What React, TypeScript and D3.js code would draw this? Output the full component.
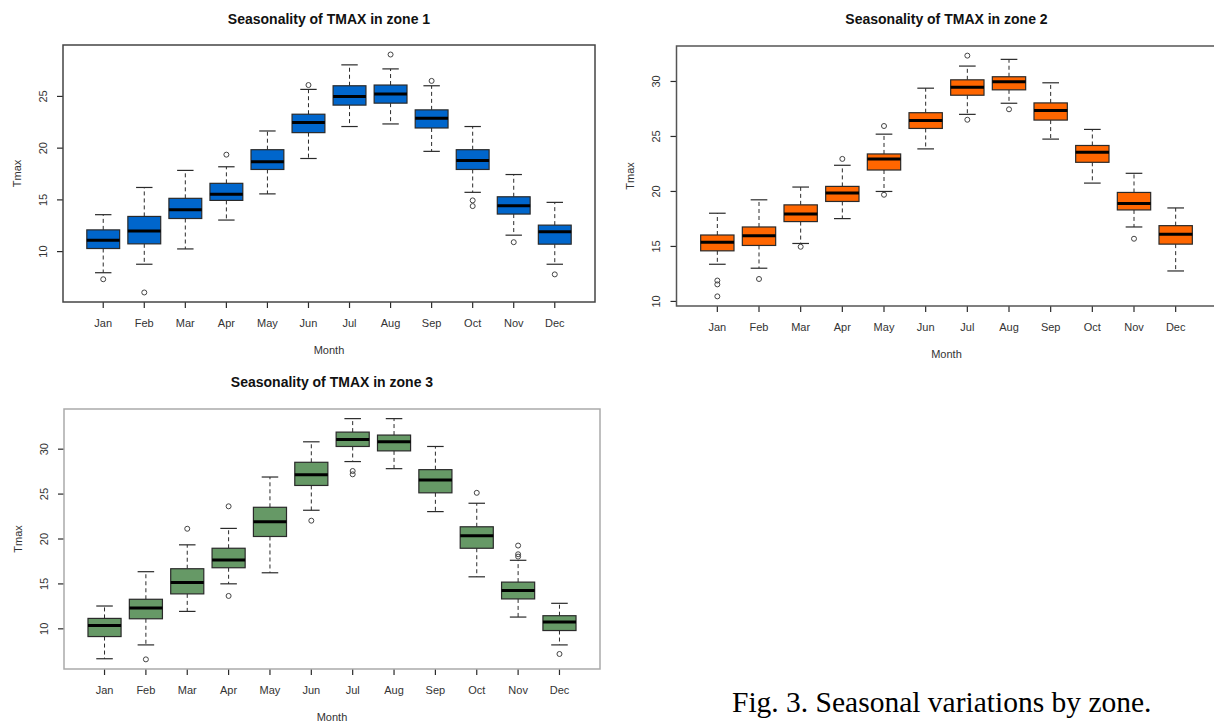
import * as d3 from "d3";
import React from "react";

const months = ["Jan", "Feb", "Mar", "Apr", "May", "Jun", "Jul", "Aug", "Sep", "Oct", "Nov", "Dec"];

// zone 1 (blue)
const zone1Low = [7.96, 8.78, 10.26, 13.05, 15.58, 19.0, 22.09, 22.34, 19.69, 15.73, 11.59, 8.78];
const zone1Q1 = [10.3, 10.75, 13.2, 14.95, 17.94, 21.5, 24.16, 24.35, 21.95, 17.94, 13.63, 10.72];
const zone1Med = [11.1, 12.0, 14.05, 15.55, 18.69, 22.48, 25.0, 25.23, 22.9, 18.81, 14.44, 11.91];
const zone1Q3 = [12.1, 13.4, 15.15, 16.6, 19.85, 23.28, 26.03, 26.1, 23.7, 19.85, 15.3, 12.56];
const zone1High = [13.57, 16.2, 17.85, 18.2, 21.66, 25.68, 28.05, 27.66, 26.03, 22.09, 17.45, 14.76];
const zone1Out = [[7.33], [6.05], [], [19.37], [], [26.1], [], [29.05], [26.5], [14.95, 14.4], [10.91], [7.8]];

// zone 2 (orange)
const zone2Low = [13.38, 13.02, 15.27, 17.53, 20.0, 23.87, 27.01, 28.02, 24.76, 20.76, 16.77, 12.77];
const zone2Q1 = [14.6, 15.09, 17.26, 19.09, 21.95, 25.73, 28.75, 29.24, 26.49, 22.65, 18.32, 15.21];
const zone2Med = [15.37, 15.98, 17.96, 19.85, 22.96, 26.46, 29.48, 29.97, 27.35, 23.57, 18.9, 16.1];
const zone2Q3 = [16.04, 16.77, 18.78, 20.46, 23.41, 27.16, 30.15, 30.43, 28.05, 24.18, 19.91, 16.89];
const zone2High = [18.02, 19.24, 20.4, 22.38, 25.21, 29.39, 31.4, 32.01, 29.88, 25.64, 21.65, 18.5];
const zone2Out = [[11.9, 11.55, 10.46], [12.04], [14.97], [22.96], [25.95, 19.7], [], [32.35, 26.52], [27.47], [], [], [15.7], []];

// zone 3 (green)
const zone3Low = [6.67, 8.21, 11.94, 15.01, 16.24, 23.2, 28.62, 27.83, 23.05, 15.79, 11.31, 8.21];
const zone3Q1 = [9.14, 11.12, 13.89, 16.8, 20.28, 25.96, 30.3, 29.81, 25.14, 18.97, 13.33, 9.81];
const zone3Med = [10.37, 12.32, 15.16, 17.66, 21.93, 27.16, 31.08, 30.82, 26.56, 20.36, 14.26, 10.75];
const zone3Q3 = [11.16, 13.29, 16.69, 18.97, 23.53, 28.54, 31.9, 31.57, 27.72, 21.36, 15.2, 11.46];
const zone3High = [12.54, 16.36, 19.35, 21.18, 26.9, 30.82, 33.4, 33.4, 30.3, 23.98, 17.63, 12.84];
const zone3Out = [[], [6.6], [21.14], [23.64, 13.66], [], [22.04], [27.57, 27.2], [], [], [25.14], [19.27, 18.3, 18.04], [7.2]];

const font = "'Liberation Sans', Arial, sans-serif";

function BoxPanel({ title, low, q1, med, q3, high, out, fill, frame, left, right, top, bottom, titleY }) {
  const all = [...low, ...high, ...out.flat()];
  const [mn, mx] = d3.extent(all);
  const pad = (mx - mn) * 0.04;
  const y = d3.scaleLinear().domain([mn - pad, mx + pad]).range([bottom, top]);
  const x = d3.scaleLinear().domain([0.02, 12.98]).range([left, right]);
  const step = x(2) - x(1);
  const bw = step * 0.8;
  const sw = bw / 2;
  const yTicks = d3.range(5, 40, 5).filter((v) => v >= mn - pad && v <= mx + pad);
  const cx = (left + right) / 2;
  const ink = "#2a2a2a";

  return (
    <g>
      <text x={cx} y={titleY} textAnchor="middle" dy="0.35em" fontFamily={font} fontWeight="bold" fontSize={14} fill="#111">
        {title}
      </text>
      {months.map((m, i) => {
        const xc = x(i + 1);
        return (
          <g key={m}>
            <line x1={xc} x2={xc} y1={y(q3[i])} y2={y(high[i])} stroke={ink} strokeDasharray="4,3" />
            <line x1={xc} x2={xc} y1={y(q1[i])} y2={y(low[i])} stroke={ink} strokeDasharray="4,3" />
            <line x1={xc - sw / 2} x2={xc + sw / 2} y1={y(high[i])} y2={y(high[i])} stroke={ink} strokeWidth={1.2} />
            <line x1={xc - sw / 2} x2={xc + sw / 2} y1={y(low[i])} y2={y(low[i])} stroke={ink} strokeWidth={1.2} />
            <rect x={xc - bw / 2} y={y(q3[i])} width={bw} height={y(q1[i]) - y(q3[i])} fill={fill} stroke={ink} strokeWidth={1.2} />
            <line x1={xc - bw / 2} x2={xc + bw / 2} y1={y(med[i])} y2={y(med[i])} stroke="#000" strokeWidth={3} />
            {out[i].map((o, j) => (
              <circle key={j} cx={xc} cy={y(o)} r={2.5} fill="none" stroke="#444" strokeWidth={1} />
            ))}
            <line x1={xc} x2={xc} y1={bottom} y2={bottom + 6} stroke={ink} strokeWidth={1.2} />
            <text x={xc} y={bottom + 21} dy="0.35em" textAnchor="middle" fontFamily={font} fontSize={11} fill="#333">
              {m}
            </text>
          </g>
        );
      })}
      {yTicks.map((v) => (
        <g key={v}>
          <line x1={left - 6} x2={left} y1={y(v)} y2={y(v)} stroke={ink} strokeWidth={1.2} />
          <text transform={`translate(${left - 20},${y(v)}) rotate(-90)`} textAnchor="middle" dy="0.35em" fontFamily={font} fontSize={11} fill="#333">
            {v}
          </text>
        </g>
      ))}
      <rect x={left} y={top} width={right - left} height={bottom - top} fill="none" stroke={frame} strokeWidth={1.5} />
      <text transform={`translate(${left - 46},${(top + bottom) / 2}) rotate(-90)`} textAnchor="middle" dy="0.35em" fontFamily={font} fontSize={11} fill="#333">
        Tmax
      </text>
      <text x={cx} y={bottom + 48} dy="0.35em" textAnchor="middle" fontFamily={font} fontSize={11} fill="#333">
        Month
      </text>
    </g>
  );
}

export default function App() {
  return (
    <svg width={1214} height={726} style={{ position: "absolute", left: 0, top: 0, background: "#fff" }}>
      <BoxPanel title="Seasonality of TMAX in zone 1" low={zone1Low} q1={zone1Q1} med={zone1Med} q3={zone1Q3} high={zone1High} out={zone1Out}
        fill="#0066cc" frame="#444" left={63} right={595} top={45} bottom={302} titleY={19} />
      <BoxPanel title="Seasonality of TMAX in zone 2" low={zone2Low} q1={zone2Q1} med={zone2Med} q3={zone2Q3} high={zone2High} out={zone2Out}
        fill="#ff6600" frame="#555" left={676.5} right={1216.5} top={46} bottom={306} titleY={19} />
      <BoxPanel title="Seasonality of TMAX in zone 3" low={zone3Low} q1={zone3Q1} med={zone3Med} q3={zone3Q3} high={zone3High} out={zone3Out}
        fill="#669966" frame="#aaa" left={64} right={600} top={409} bottom={669} titleY={382} />
      <text x={732} y={712} fontFamily="'Liberation Serif', 'Times New Roman', serif" fontSize={29.5} fill="#000">
        Fig. 3. Seasonal variations by zone.
      </text>
    </svg>
  );
}
